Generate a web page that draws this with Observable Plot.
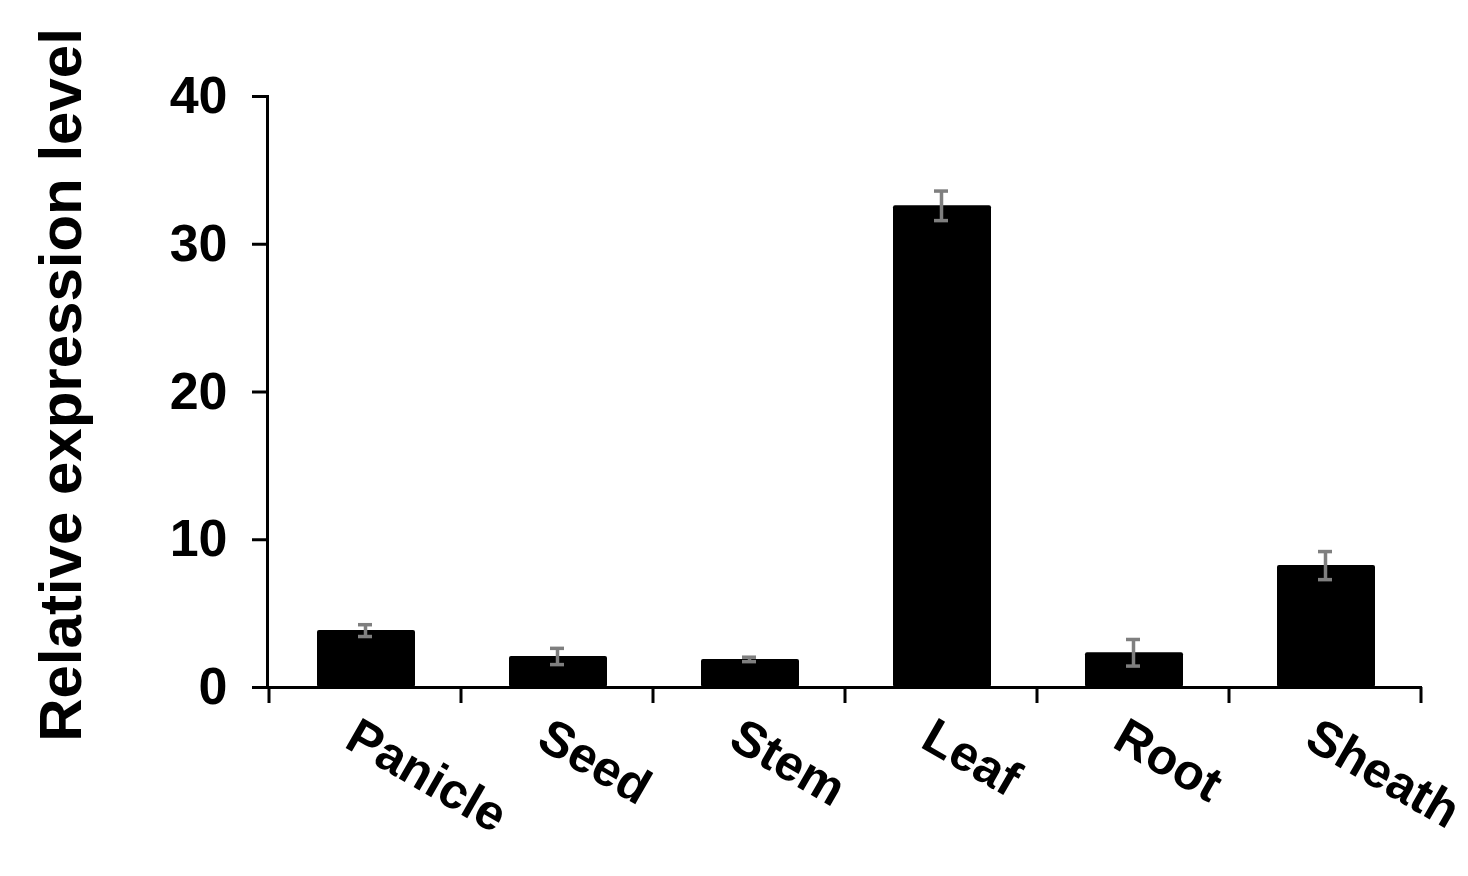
<!DOCTYPE html>
<html>
<head>
<meta charset="utf-8">
<script src="https://cdn.jsdelivr.net/npm/d3@7"></script>
<script src="https://cdn.jsdelivr.net/npm/@observablehq/plot@0.6"></script>
<style>
  html, body { margin: 0; padding: 0; background: #fff; }
  #chart { width: 1468px; height: 876px; }
</style>
</head>
<body>
<div id="chart"></div>
<script>
const tissues = ["Panicle", "Seed", "Stem", "Leaf", "Root", "Sheath"];
const means   = [3.85, 2.1, 1.9, 32.6, 2.35, 8.25];
const errors  = [0.4, 0.55, 0.15, 1.0, 0.9, 0.95];
const yTicks  = [0, 10, 20, 30, 40];
const yTitle  = "Relative expression level";

const data = tissues.map((t, i) => ({tissue: t, mean: means[i], err: errors[i]}));
const font = "Liberation Sans, Arial, sans-serif";

const plot = Plot.plot({
  width: 1468,
  height: 876,
  marginLeft: 267,
  marginRight: 46,
  marginTop: 96,
  marginBottom: 189,
  style: {fontFamily: font, background: "#fff", overflow: "visible"},
  x: {domain: tissues, padding: 0, axis: null},
  y: {domain: [0, 40], ticks: yTicks, axis: null},
  marks: [
    Plot.barY(data, {x: "tissue", y: "mean", fill: "#000", insetLeft: 48, insetRight: 46, rx: 2}),
    Plot.ruleX(data, {x: "tissue", y1: d => d.mean - d.err, y2: d => d.mean + d.err, stroke: "#7f7f7f", strokeWidth: 3.5}),
    Plot.tickY(data, {x: "tissue", y: d => d.mean - d.err, stroke: "#7f7f7f", strokeWidth: 3.5, insetLeft: 89, insetRight: 89}),
    Plot.tickY(data, {x: "tissue", y: d => d.mean + d.err, stroke: "#7f7f7f", strokeWidth: 3.5, insetLeft: 89, insetRight: 89}),
    Plot.axisY({ticks: yTicks, tickSize: 15, tickPadding: 25, fontSize: 52, fontWeight: "bold", strokeWidth: 3, stroke: "#000", color: "#000", label: null}),
    Plot.frame({anchor: "left", strokeWidth: 3, stroke: "#000"}),
    Plot.ruleY([0], {stroke: "#000", strokeWidth: 3, insetLeft: -15}),
    Plot.text(data, {x: "tissue", y: 0, text: "tissue", textAnchor: "start", lineAnchor: "top", rotate: 30, dy: 28, dx: -5, fontSize: 50, fontWeight: "bold", fill: "#000"})
  ]
});

// boundary ticks below the category axis, positioned via the plot's x scale
const xs = plot.scale("x");
const ys = plot.scale("y");
const bw = xs.bandwidth;
const bounds = tissues.map(t => xs.apply(t) - (xs.step - bw) / 2).concat([xs.apply(tissues[tissues.length - 1]) + bw]);
const y0 = ys.apply(0);
d3.select(plot).append("g")
  .selectAll("line").data(bounds).join("line")
  .attr("x1", d => d).attr("x2", d => d)
  .attr("y1", y0).attr("y2", y0 + 16)
  .attr("stroke", "#000").attr("stroke-width", 3);

// y-axis title
d3.select(plot).append("text")
  .attr("transform", `translate(81, 385) rotate(-90)`)
  .attr("text-anchor", "middle")
  .attr("font-family", font)
  .attr("font-weight", "bold")
  .attr("font-size", 60)
  .attr("fill", "#000")
  .text(yTitle);

document.getElementById("chart").appendChild(plot);
</script>
</body>
</html>
